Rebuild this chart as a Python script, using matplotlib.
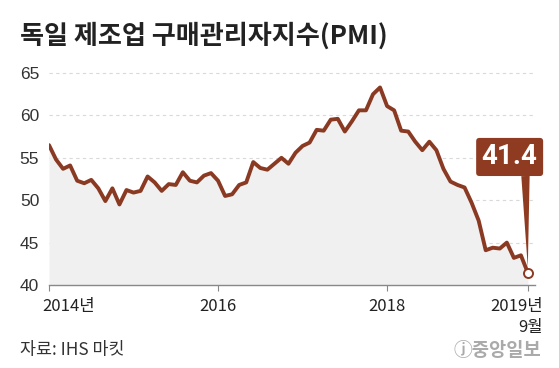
import matplotlib.pyplot as plt
import numpy as np

plt.rcParams['font.family'] = ['Noto Sans CJK KR', 'DejaVu Sans']

# monthly German manufacturing PMI, Jan 2014 .. Sep 2019
pmi_2014 = [56.5, 54.8, 53.7, 54.1, 52.3, 52.0, 52.4, 51.4, 49.9, 51.4, 49.5, 51.2]
pmi_2015 = [50.9, 51.1, 52.8, 52.1, 51.1, 51.9, 51.8, 53.3, 52.3, 52.1, 52.9, 53.2]
pmi_2016 = [52.3, 50.5, 50.7, 51.8, 52.1, 54.5, 53.8, 53.6, 54.3, 55.0, 54.3, 55.6]
pmi_2017 = [56.4, 56.8, 58.3, 58.2, 59.5, 59.6, 58.1, 59.3, 60.6, 60.6, 62.5, 63.3]
pmi_2018 = [61.1, 60.6, 58.2, 58.1, 56.9, 55.9, 56.9, 55.9, 53.7, 52.2, 51.8, 51.5]
pmi_2019 = [49.7, 47.6, 44.1, 44.4, 44.3, 45.0, 43.2, 43.5, 41.4]
pmi = pmi_2014 + pmi_2015 + pmi_2016 + pmi_2017 + pmi_2018 + pmi_2019
months = np.arange(len(pmi))

y_ticks = [40, 45, 50, 55, 60, 65]
x_ticks = [0, 24, 48, 68]
x_labels = ["2014년", "2016", "2018", "2019년\n9월"]

line_color = "#8a3a22"
box_color = "#8f3b22"

fig = plt.figure(figsize=(5.59, 3.68), dpi=100)
ax = fig.add_axes([49 / 559, 83 / 368, 486 / 559, 0.576 * 26 / 25])
ax.set_xlim(0, 69)
ax.set_ylim(40, 66)

ax.fill_between(months, pmi, 40, color="#f0f0f0", lw=0, zorder=1)
for y in y_ticks[1:]:
    ax.axhline(y, color="#d9d9d9", lw=0.8, ls=(0, (3, 3)), zorder=0)
ax.plot(months, pmi, color=line_color, lw=2.8, solid_joinstyle="round",
        solid_capstyle="round", zorder=3)
ax.plot(months[-1], pmi[-1], "o", ms=6.5, mfc="white", mec=line_color, mew=1.4, zorder=4)

# callout
ax.annotate("41.4", xy=(months[-1], pmi[-1]), xytext=(65.4, 55.1),
            ha="center", va="center", fontsize=20, fontweight="bold", color="white",
            family=["Roboto", "DejaVu Sans"],
            bbox=dict(boxstyle="round,pad=0.2,rounding_size=0.12", fc=box_color, ec="none"),
            arrowprops=dict(arrowstyle="wedge,tail_width=0.3", fc=box_color, ec="none",
                            shrinkA=0, shrinkB=4, relpos=(0.78, 0.05)),
            zorder=5)

for s in ["top", "right", "left"]:
    ax.spines[s].set_visible(False)
ax.spines["bottom"].set_color("#888888")
ax.spines["bottom"].set_linewidth(1.0)

ax.set_yticks(y_ticks)
ax.set_yticklabels([str(v) for v in y_ticks], family=["Liberation Sans", "DejaVu Sans"],
                   fontsize=12.5, color="#333333")
ax.tick_params(axis="y", length=0, pad=7)
ax.set_xticks(x_ticks)
ax.set_xticklabels([])
ax.tick_params(axis="x", length=4, color="#888888", direction="out")

label_ha = ["left", "center", "center", "right"]
label_dx = [-7, 0, 0, 15]
for xt, lab, ha, dx in zip(x_ticks, x_labels, label_ha, label_dx):
    ax.annotate(lab, xy=(xt, 40), xycoords="data", xytext=(dx, -13),
                textcoords="offset pixels", ha=ha, va="top", fontsize=12,
                color="#222222", linespacing=1.3)

fig.text(20 / 559, 1 - 36 / 368, "독일 제조업 구매관리자지수(PMI)", fontsize=18.8,
         fontweight="bold", color="#222222", va="center", ha="left")
fig.text(20 / 559, 1 - 350 / 368, "자료: IHS 마킷", fontsize=12.5,
         color="#333333", va="center", ha="left")
fig.text(541 / 559, 1 - 350 / 368, "ⓙ중앙일보", fontsize=13.5, color="#aaaaaa",
         va="center", ha="right", fontweight="bold")

fig.savefig("out.png", dpi=100)
